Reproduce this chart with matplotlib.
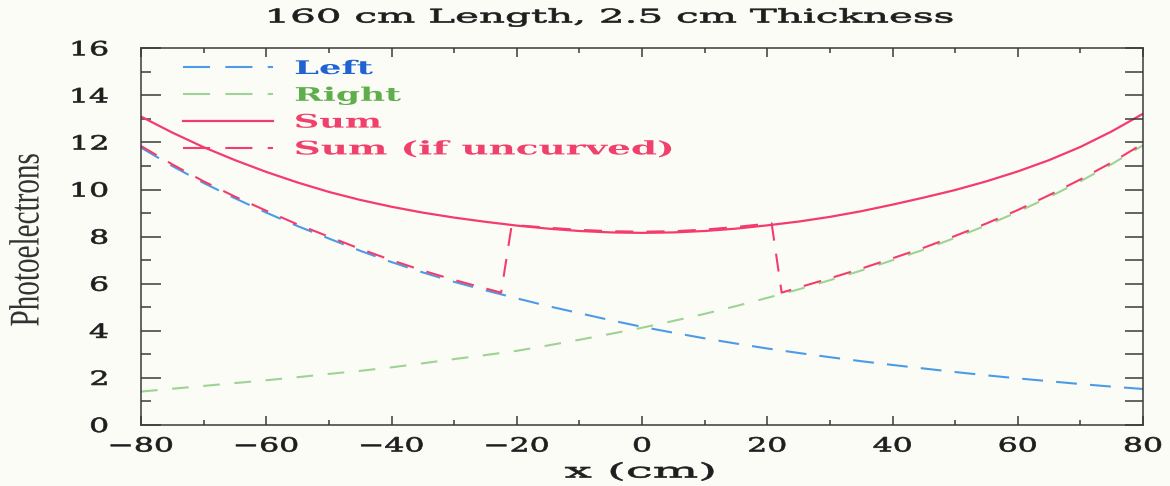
import matplotlib
matplotlib.use("Agg")
import matplotlib.pyplot as plt
from matplotlib.patheffects import AbstractPathEffect
from matplotlib.transforms import Affine2D
from matplotlib.ticker import MultipleLocator
from matplotlib.lines import Line2D

# ---------------- data ----------------
x_cm = [-80, -75, -70, -65, -60, -55, -50, -45, -40, -35, -30, -25, -20, -15, -10, -5, 0,
        5, 10, 15, 20, 25, 30, 35, 40, 45, 50, 55, 60, 65, 70, 75, 80]
left_pe = [11.78, 11.00, 10.28, 9.63, 9.02, 8.45, 7.92, 7.40, 6.92, 6.48, 6.08, 5.72, 5.38,
           5.05, 4.75, 4.45, 4.17, 3.92, 3.68, 3.46, 3.25, 3.06, 2.88, 2.71, 2.55, 2.40,
           2.25, 2.11, 1.98, 1.86, 1.74, 1.63, 1.53]
right_pe = [1.42, 1.54, 1.66, 1.78, 1.90, 2.03, 2.17, 2.30, 2.45, 2.62, 2.80, 2.97, 3.15,
            3.38, 3.62, 3.87, 4.13, 4.42, 4.72, 5.05, 5.40, 5.76, 6.15, 6.56, 7.00, 7.45,
            7.95, 8.48, 9.05, 9.68, 10.35, 11.08, 11.88]
sum_pe = [13.10, 12.42, 11.80, 11.25, 10.75, 10.30, 9.90, 9.56, 9.27, 9.02, 8.81, 8.63,
          8.47, 8.34, 8.24, 8.18, 8.16, 8.18, 8.24, 8.34, 8.48, 8.64, 8.84, 9.08, 9.36,
          9.66, 9.98, 10.35, 10.77, 11.25, 11.81, 12.47, 13.22]
uncurved_x = [-80, -75, -70, -65, -60, -55, -50, -45, -40, -35, -30, -25, -22.5, -20.8,
              -15, -10, -5, 0, 5, 10, 15, 20.7, 22.3, 25, 30, 35, 40, 45, 50, 55, 60, 65,
              70, 75, 80]
uncurved_pe = [11.85, 11.07, 10.35, 9.70, 9.10, 8.52, 8.00, 7.48, 7.00, 6.56, 6.16, 5.80,
               5.62, 8.50, 8.38, 8.29, 8.23, 8.21, 8.23, 8.30, 8.41, 8.57, 5.62, 5.84,
               6.23, 6.64, 7.08, 7.53, 8.03, 8.56, 9.13, 9.76, 10.43, 11.15, 11.95]

title_text = "160 cm Length, 2.5 cm Thickness"
xlabel_text = "x (cm)"
ylabel_text = "Photoelectrons"
legend_labels = ["Left", "Right", "Sum", "Sum (if uncurved)"]
xtick_vals = [-80, -60, -40, -20, 0, 20, 40, 60, 80]
ytick_vals = [0, 2, 4, 6, 8, 10, 12, 14, 16]

# ---------------- styling ----------------
BG = "#fcfcf7"
AX_C = "#3a3a3a"
TXT = "#1e1e1e"
BLUE = "#4c9be6"
BLUE_T = "#1f62d2"
GREEN = "#9dd393"
GREEN_T = "#5fae4c"
RED = "#f43c6c"
RED_T = "#f0406c"

plt.rcParams["lines.scale_dashes"] = False


class Stretch(AbstractPathEffect):
    """Widen glyph paths horizontally (the text stays a real Text artist)."""

    def __init__(self, sx=1.0, anchor="center", target=None, stroke=0.0):
        super().__init__()
        self.sx = sx
        self.anchor = anchor
        self.target = target
        self.stroke = stroke

    def draw_path(self, renderer, gc, tpath, affine, rgbFace=None):
        bb = tpath.get_extents(affine)
        sx = self.sx
        if self.target is not None and bb.width > 0:
            sx = self.target / bb.width
        if self.anchor == "left":
            cx = bb.x0
        elif self.anchor == "right":
            cx = bb.x1
        else:
            cx = 0.5 * (bb.x0 + bb.x1)
        t = affine + Affine2D().translate(-cx, 0).scale(sx, 1.0).translate(cx, 0)
        gc0 = renderer.new_gc()
        gc0.copy_properties(gc)
        if self.stroke > 0 and rgbFace is not None:
            gc0.set_linewidth(self.stroke)
            gc0.set_foreground(rgbFace)
            gc0.set_joinstyle("round")
        renderer.draw_path(gc0, tpath, t, rgbFace)
        gc0.restore()


W, H, DPI = 1170, 486, 100
fig = plt.figure(figsize=(W / DPI, H / DPI), dpi=DPI, facecolor=BG)
L, R, T, B = 141, 1143, 48.3, 425
ax = fig.add_axes([L / W, (H - B) / H, (R - L) / W, (B - T) / H], facecolor=BG)

ax.set_xlim(-80, 80)
ax.set_ylim(0, 16)

l_left, = ax.plot(x_cm, left_pe, color=BLUE, lw=1.5, dashes=(15, 9.5))
l_right, = ax.plot(x_cm, right_pe, color=GREEN, lw=1.5, dashes=(12, 10.5))
l_unc, = ax.plot(uncurved_x, uncurved_pe, color=RED, lw=1.5, dashes=(13, 9.5))
l_sum, = ax.plot(x_cm, sum_pe, color=RED, lw=1.6)

# spines / ticks
for s in ax.spines.values():
    s.set_color(AX_C)
    s.set_linewidth(1.1)

ax.set_xticks(xtick_vals)
ax.set_yticks(ytick_vals)
ax.xaxis.set_minor_locator(MultipleLocator(10))
ax.yaxis.set_minor_locator(MultipleLocator(1))

# right-side ticks (all the same length, as in the picture)
ax2 = ax.twinx()
ax2.set_ylim(0, 16)
ax2.yaxis.set_major_locator(MultipleLocator(1))
ax2.tick_params(axis="y", which="both", direction="in", length=13, width=1.1,
                color=AX_C, labelright=False)
for s in ax2.spines.values():
    s.set_visible(False)

ax.tick_params(axis="x", which="both", direction="in", top=True, bottom=True,
               color=AX_C, width=1.1, pad=9.0)
ax.tick_params(axis="x", which="major", length=6.8)
ax.tick_params(axis="x", which="minor", length=3.8)
ax.tick_params(axis="y", which="both", direction="in", left=True, right=False,
               color=AX_C, width=1.1, pad=23.5)
ax.tick_params(axis="y", which="major", length=14.5)
ax.tick_params(axis="y", which="minor", length=7.5)

# labels
ax.set_title(title_text, x=(609.5 - L) / (R - L), y=(B - 17.5) / (B - T), pad=0,
             va="center", ha="center", fontfamily="DejaVu Serif", fontsize=13.5,
             color=TXT, path_effects=[Stretch(anchor="center", target=683, stroke=0.5)])
ax.set_xlabel(xlabel_text, fontfamily="DejaVu Serif", fontsize=14.5, color=TXT,
              va="center", ha="center",
              path_effects=[Stretch(anchor="center", target=148, stroke=0.5)])
ax.xaxis.set_label_coords((640 - L) / (R - L), (B - 472) / (B - T))
ax.set_ylabel(ylabel_text, fontfamily="Liberation Serif", fontsize=21, color="#333333",
              va="center", ha="center",
              path_effects=[Stretch(1.45, "center")])
ax.yaxis.set_label_coords((27 - L) / (R - L), (B - 240) / (B - T))

# legend (proxy handles carry the legend's own dash pattern)
h_left = Line2D([], [], color=BLUE, lw=1.5, dashes=(19.5, 11))
h_right = Line2D([], [], color=GREEN, lw=1.5, dashes=(19.5, 11))
h_sum = Line2D([], [], color=RED, lw=1.6)
h_unc = Line2D([], [], color=RED, lw=1.5, dashes=(19.5, 11))
leg = ax.legend([h_left, h_right, h_sum, h_unc], legend_labels,
                loc="upper left", bbox_to_anchor=((183 - L) / (R - L), (B - 60) / (B - T)),
                frameon=False, borderpad=0, borderaxespad=0,
                handlelength=4.8, handletextpad=1.17, labelspacing=0.47,
                prop=dict(family="DejaVu Serif", weight="bold", size=13.5))
legend_widths = [77, 105, 85, 375]
for t, c, w in zip(leg.get_texts(), [BLUE_T, GREEN_T, RED_T, RED_T], legend_widths):
    t.set_color(c)
    t.set_path_effects([Stretch(anchor="left", target=w)])

# tick label styling (done last so nothing resets it)
for lbl in ax.get_xticklabels():
    lbl.set_fontfamily("DejaVu Serif")
    lbl.set_fontsize(14)
    lbl.set_color(TXT)
    lbl.set_path_effects([Stretch(1.62, "center", stroke=0.5)])
for lbl in ax.get_yticklabels():
    lbl.set_fontfamily("DejaVu Serif")
    lbl.set_fontsize(14)
    lbl.set_color(TXT)
    lbl.set_verticalalignment("center_baseline")
    lbl.set_path_effects([Stretch(1.62, "right", stroke=0.5)])

fig.savefig("out.png", dpi=DPI, facecolor=BG)
